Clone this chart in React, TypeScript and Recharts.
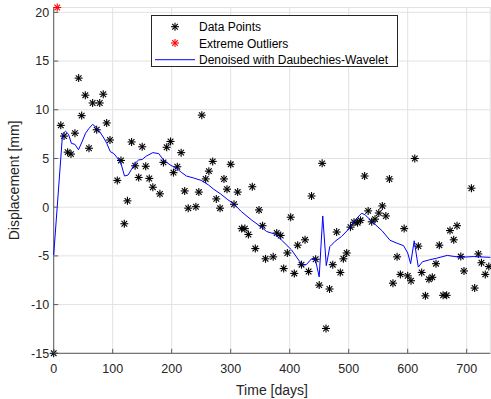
import React from 'react';
import { ComposedChart, Scatter, XAxis, YAxis, CartesianGrid, Legend } from 'recharts';

const pointDays = [
  0, 12, 17.5, 23.6, 29.3, 36, 42.3, 47.4, 53.6, 59.8,
  66, 72.9, 78, 84, 89.8, 95.4, 107.8, 114, 119.7, 125,
  132, 138, 144, 150, 156, 162, 168, 180, 186, 191.5,
  198, 203, 209.5, 216, 222, 228, 241, 246, 251, 257.6,
  263, 269.5, 275.6, 282, 288.6, 293.7, 300, 305.6, 311.8, 318.6,
  324, 330, 336.6, 341.7, 348, 354, 359, 372, 378, 384.7,
  389.8, 396, 401.7, 407.8, 413.5, 420, 426, 432, 437, 444,
  450, 455, 461.5, 467.5, 473, 479.6, 485.8, 491, 496.6, 503,
  509, 515, 520, 527, 533, 539, 544.6, 551, 557, 563,
  569, 575, 582, 587.6, 594, 600, 605.6, 612, 618, 623.7,
  630, 636, 641.7, 648, 653.6, 660, 666, 671.7, 678, 683.6,
  690, 695.4, 708, 713.5, 719.7, 725, 731.5, 737.5,
];
const pointValues = [
  -15, 8.4, 7.3, 5.65, 5.45, 7.6, 13.25, 9.4, 11.5, 6.05,
  10.7, 7.95, 10.7, 11.6, 8.65, 6.9, 2.75, 4.8, -1.7, 0.65,
  6.7, 4.25, 3.05, 6.2, 4.2, 2.95, 2.05, 1.37, 4.6, 6.15,
  6.75, 3.55, 4.15, 5.6, 1.67, -0.1, 0.05, 1.55, 9.45, 2.9,
  3.7, 4.7, 0.85, -0.1, 2.9, 1.85, 4.4, 0.3, 1.55, -2.2,
  -2.2, -2.8, 2.1, -4.25, -0.28, -1.9, -5.3, -5.1, -2.65, -2.9,
  -6.3, -4.7, -1.03, -6.8, -3.9, -5.9, -3.35, -6.6, 1.15, -5.35,
  -8.0, 4.5, -12.45, -8.4, -5.9, -2.55, -6.7, -5.3, -4.7, -2.05,
  -1.55, -1.6, -1.35, 3.2, -0.38, -1.5, -1.23, -0.6, 0.13, -0.9,
  2.9, -7.8, -5.1, -6.9, -2.2, -7.05, -7.55, 5.0, -4.0, -6.7,
  -9.1, -7.4, -7.2, -5.8, -3.9, -9.05, -9.05, -2.4, -3.35, -1.9,
  -5.07, -6.55, 1.95, -8.3, -4.8, -5.7, -6.9, -6.1,
];

const outlierDays = [6];
const outlierValues = [20.5];

const denoisedDays = [
  0, 15, 20, 25, 30, 36, 42, 48, 54, 60,
  66, 72, 78, 85, 90, 96, 102, 108, 114, 120,
  126, 132, 138, 144, 150, 157, 168, 178, 186, 197,
  208, 217, 225, 237, 250, 262, 271, 282, 294, 306,
  318, 335, 352, 361, 375, 386, 403, 417, 423, 428,
  437, 443, 450, 456, 462, 468, 477, 488, 500, 511,
  522, 528, 540, 557, 570, 582, 593, 600, 605, 611,
  618, 625, 637, 649, 667, 680, 689, 711, 740,
];
const denoisedValues = [
  -4.9, 7.5, 7.8, 7.5, 6.55, 6.45, 5.9, 6.7, 7.6, 8.1,
  8.5, 8.2, 7.75, 7.1, 6.55, 5.7, 5.5, 5.05, 4.5, 3.2,
  3.3, 3.9, 4.5, 4.85, 4.9, 5.25, 5.6, 5.5, 4.85, 4.35,
  4.0, 3.55, 3.2, 3.0, 2.75, 2.3, 1.85, 1.4, 0.82, 0.3,
  -0.45, -1.3, -2.05, -2.5, -2.77, -3.36, -4.38, -5.58, -5.92, -5.9,
  -5.3, -5.24, -7.15, -0.9, -6.0, -4.05, -3.5, -3.0, -2.25, -1.3,
  -0.62, -0.8, -1.5, -2.45, -3.4, -3.7, -3.95, -4.7, -5.8, -3.45,
  -6.15, -5.6, -5.4, -5.24, -4.95, -5.07, -5.15, -5.07, -5.15,
];

const xTicks = [0, 100, 200, 300, 400, 500, 600, 700];
const yTicks = [-15, -10, -5, 0, 5, 10, 15, 20];
const xDomain = [0, 740];
const yDomain = [-15, 20.5];

const legendLabels = ['Data Points', 'Extreme Outliers', 'Denoised with Daubechies-Wavelet'];

const points = pointDays.map((d, i) => ({ x: d, y: pointValues[i] }));
const outliers = outlierDays.map((d, i) => ({ x: d, y: outlierValues[i] }));
const denoised = denoisedDays.map((d, i) => ({ x: d, y: denoisedValues[i] }));

const FONT = '"Liberation Sans", Arial, Helvetica, sans-serif';
const TEXT = '#262626';
const AXIS = '#5a5a5a';
const BLUE = '#0000ff';

function Star({ cx, cy, color }: { cx: number; cy: number; color: string }) {
  const r = 4;
  const d = r * 0.7071;
  return (
    <g stroke={color} strokeWidth={1.1} fill="none">
      <line x1={cx - r} y1={cy} x2={cx + r} y2={cy} />
      <line x1={cx} y1={cy - r} x2={cx} y2={cy + r} />
      <line x1={cx - d} y1={cy - d} x2={cx + d} y2={cy + d} />
      <line x1={cx - d} y1={cy + d} x2={cx + d} y2={cy - d} />
    </g>
  );
}

const BottomTick = (p: any) => (
  <g>
    <line x1={p.x} y1={p.y} x2={p.x} y2={p.y - 4.5} stroke={AXIS} strokeWidth={1} />
    <text x={p.x} y={p.y + 19.5} textAnchor="middle" fontSize={12.5} fontFamily={FONT} fill={TEXT}>
      {p.payload.value}
    </text>
  </g>
);
const TopTick = (p: any) => (
  <line x1={p.x} y1={p.y} x2={p.x} y2={p.y + 4.5} stroke={AXIS} strokeWidth={1} />
);
const LeftTick = (p: any) => (
  <g>
    <line x1={p.x} y1={p.y} x2={p.x + 4.5} y2={p.y} stroke={AXIS} strokeWidth={1} />
    <text x={p.x - 4.5} y={p.y + 4.4} textAnchor="end" fontSize={12.5} fontFamily={FONT} fill={TEXT}>
      {p.payload.value}
    </text>
  </g>
);
const RightTick = (p: any) => (
  <line x1={p.x} y1={p.y} x2={p.x - 4.5} y2={p.y} stroke={AXIS} strokeWidth={1} />
);

const LegendBox = () => (
  <div
    style={{
      width: 247,
      height: 52,
      boxSizing: 'border-box',
      border: '1px solid #262626',
      background: '#fff',
      position: 'relative',
      fontFamily: FONT,
      fontSize: 12,
      color: '#000',
    }}
  >
    <svg width={245} height={50} style={{ position: 'absolute', left: 0, top: 0 }}>
      <Star cx={23} cy={10.7} color="#000" />
      <Star cx={23} cy={27} color="#ff0000" />
      <line x1={3} y1={43.7} x2={43} y2={43.7} stroke={BLUE} strokeWidth={1} />
      {legendLabels.map((t, i) => (
        <text key={t} x={47} y={15 + i * 16.5} fontSize={12} fontFamily={FONT} fill="#000">
          {t}
        </text>
      ))}
    </svg>
  </div>
);

export default function App() {
  return (
    <div style={{ position: 'absolute', left: 0, top: 0, width: 491, height: 399, background: '#fff' }}>
      <ComposedChart width={491} height={399} margin={{ top: 7.5, right: 0.7, bottom: 0, left: 0 }}>
        <CartesianGrid stroke="#e2e2e2" strokeWidth={1} />
        <XAxis
          xAxisId={0}
          type="number"
          dataKey="x"
          domain={xDomain}
          ticks={xTicks}
          height={45.7}
          tickSize={0}
          tickMargin={0}
          tickLine={false}
          axisLine={{ stroke: AXIS, strokeWidth: 1 }}
          tick={BottomTick}
          interval={0}
          label={{
            content: (props: any) => {
              const vb = props.viewBox;
              return (
                <text x={vb.x + vb.width / 2} y={vb.y + 41.5} textAnchor="middle" fontSize={14} fontFamily={FONT} fill={TEXT}>
                  Time [days]
                </text>
              );
            },
          }}
        />
        <XAxis
          xAxisId="top"
          orientation="top"
          type="number"
          dataKey="x"
          domain={xDomain}
          ticks={xTicks}
          height={0}
          tickSize={0}
          tickMargin={0}
          tickLine={false}
          axisLine={{ stroke: AXIS, strokeWidth: 1 }}
          tick={TopTick}
          interval={0}
        />
        <YAxis
          yAxisId={0}
          type="number"
          dataKey="y"
          domain={yDomain}
          ticks={yTicks}
          width={53.7}
          tickSize={0}
          tickMargin={0}
          tickLine={false}
          axisLine={{ stroke: AXIS, strokeWidth: 1 }}
          tick={LeftTick}
          interval={0}
          label={{
            content: (props: any) => {
              const vb = props.viewBox;
              const cx = 19.5;
              const cy = vb.y + vb.height / 2;
              return (
                <text x={cx} y={cy} transform={`rotate(-90 ${cx} ${cy})`} textAnchor="middle" fontSize={14} fontFamily={FONT} fill={TEXT}>
                  Displacement [mm]
                </text>
              );
            },
          }}
        />
        <YAxis
          yAxisId="right"
          orientation="right"
          type="number"
          dataKey="y"
          domain={yDomain}
          ticks={yTicks}
          width={0}
          tickSize={0}
          tickMargin={0}
          tickLine={false}
          axisLine={{ stroke: AXIS, strokeWidth: 1 }}
          tick={RightTick}
          interval={0}
        />
        <Scatter
          name="Data Points"
          data={points}
          xAxisId={0}
          yAxisId={0}
          isAnimationActive={false}
          shape={(p: any) => <Star cx={p.cx} cy={p.cy} color="#000" />}
        />
        <Scatter
          name="Extreme Outliers"
          data={outliers}
          xAxisId={0}
          yAxisId={0}
          isAnimationActive={false}
          shape={(p: any) => <Star cx={p.cx} cy={p.cy} color="#ff0000" />}
        />
        <Scatter
          name="Denoised with Daubechies-Wavelet"
          data={denoised}
          xAxisId={0}
          yAxisId={0}
          isAnimationActive={false}
          line={{ stroke: BLUE, strokeWidth: 1 }}
          lineJointType="linear"
          shape={() => <g />}
        />
        <Legend
          layout="vertical"
          align="center"
          verticalAlign="middle"
          wrapperStyle={{ position: 'absolute', left: 151, top: 15, width: 247, height: 52 }}
          content={() => <LegendBox />}
        />
      </ComposedChart>
    </div>
  );
}
